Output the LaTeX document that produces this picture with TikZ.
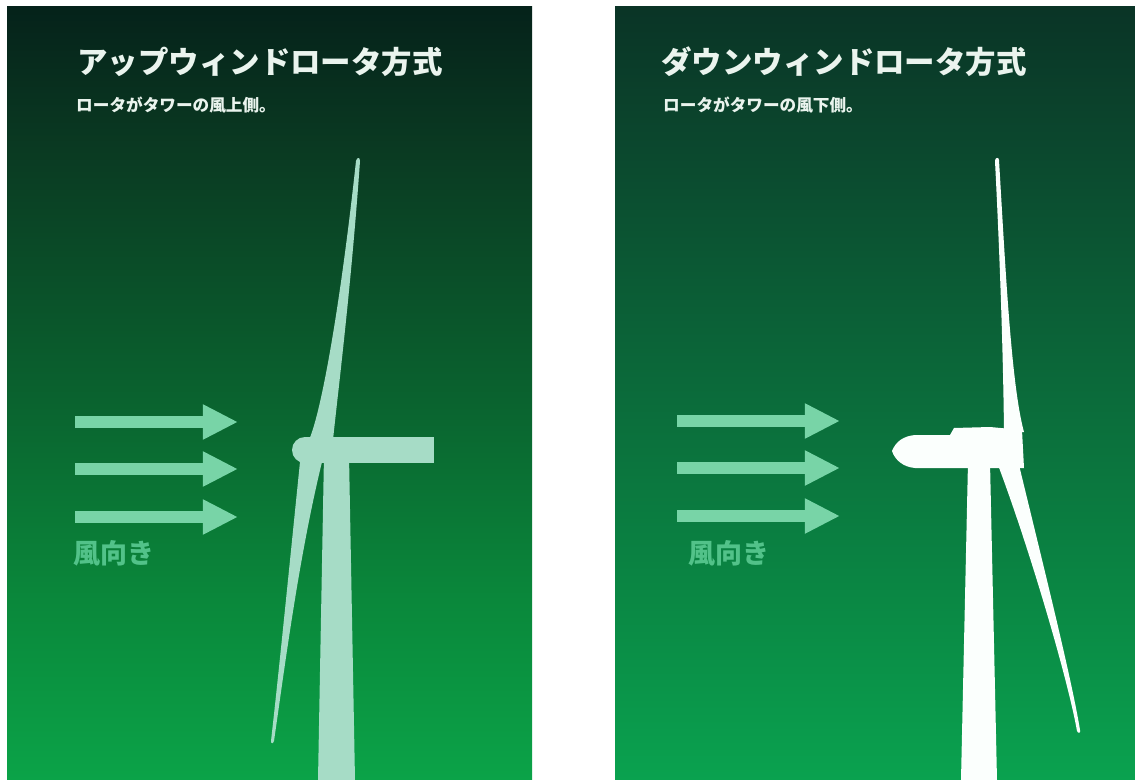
\documentclass[tikz,border=0pt]{standalone}
\usepackage{fontspec}
\newfontfamily\jp{Noto Sans CJK JP}
\usetikzlibrary{arrows.meta}

% panel and figure colours
\definecolor{upTop}{HTML}{05221A}
\definecolor{upA}{HTML}{0A3A22}
\definecolor{upB}{HTML}{0A632F}
\definecolor{upC}{HTML}{0A883B}
\definecolor{upBot}{HTML}{0BA348}
\definecolor{dnTop}{HTML}{0A3426}
\definecolor{dnA}{HTML}{0B482E}
\definecolor{dnB}{HTML}{0B6C3B}
\definecolor{dnC}{HTML}{0A8844}
\definecolor{dnBot}{HTML}{0AA24F}
\definecolor{titlec}{HTML}{EAF4EE}
\definecolor{windc}{HTML}{78D4A7}
\definecolor{labelc}{HTML}{52C289}
\definecolor{upturb}{HTML}{A6DCC6}
\definecolor{dnturb}{HTML}{FBFFFD}

% vertical gradients (0bp = bottom); the path spans 25bp..75bp
\pgfdeclareverticalshading{upbg}{100bp}{color(0bp)=(upBot); color(25bp)=(upBot);
  color(36.6bp)=(upC); color(49.5bp)=(upB); color(65.7bp)=(upA);
  color(75bp)=(upTop); color(100bp)=(upTop)}
\pgfdeclareverticalshading{dnbg}{100bp}{color(0bp)=(dnBot); color(25bp)=(dnBot);
  color(36.6bp)=(dnC); color(49.5bp)=(dnB); color(65.7bp)=(dnA);
  color(75bp)=(dnTop); color(100bp)=(dnTop)}

\tikzset{
  title/.style={anchor=west, inner sep=0pt, text=titlec,
    font=\jp\bfseries\fontsize{26}{30}\selectfont},
  subtitle/.style={anchor=west, inner sep=0pt, text=titlec,
    font=\jp\bfseries\fontsize{14.2}{17}\selectfont},
  windlabel/.style={anchor=west, inner sep=0pt, text=labelc,
    font=\jp\bfseries\fontsize{23}{27}\selectfont},
  wind/.style={draw=windc, line width=9.4pt,
    -{Triangle[length=30pt 0 0, width=28pt 0 0]}},
}

\begin{document}
\begin{tikzpicture}[x=0.03cm,y=-0.03cm]
\useasboundingbox (0,0) rectangle (1135,780);
\fill[white] (0,0) rectangle (1135,780);

% the two panels
\shade[shading=upbg] (7,6) rectangle (532,780);
\shade[shading=dnbg] (615,6) rectangle (1135,780);

% headings
\node[title] (uptitle) at (77,62) {アップウィンドロータ方式};
\node[subtitle] (upsub) at (76,105) {ロータがタワーの風上側。};
\node[title] (dntitle) at (661,62) {ダウンウィンドロータ方式};
\node[subtitle] (dnsub) at (663,105) {ロータがタワーの風下側。};

% wind arrows, upwind panel
\coordinate (uw1s) at (75,422);  \coordinate (uw1e) at (238,422);
\coordinate (uw2s) at (75,469);  \coordinate (uw2e) at (238,469);
\coordinate (uw3s) at (75,517);  \coordinate (uw3e) at (238,517);
\draw[wind] (uw1s) -- (uw1e);
\draw[wind] (uw2s) -- (uw2e);
\draw[wind] (uw3s) -- (uw3e);
\node[windlabel] (uplabel) at (73,553) {風向き};

% wind arrows, downwind panel
\coordinate (dw1s) at (677,421); \coordinate (dw1e) at (840,421);
\coordinate (dw2s) at (677,468); \coordinate (dw2e) at (840,468);
\coordinate (dw3s) at (677,516); \coordinate (dw3e) at (840,516);
\draw[wind] (dw1s) -- (dw1e);
\draw[wind] (dw2s) -- (dw2e);
\draw[wind] (dw3s) -- (dw3e);
\node[windlabel] (dnlabel) at (688,553) {風向き};

% upwind turbine: rotor in front of the tower
\begin{scope}[upturb]
  \fill (309,440) .. controls (322,410) and (341,300) .. (356,161)
        .. controls (357,157) and (360,157) .. (360,161)
        .. controls (351,290) and (337,400) .. (333,440) -- cycle;
  \fill (300,462) .. controls (290,560) and (278,680) .. (271,741)
        .. controls (271,744) and (273,744) .. (274,741)
        .. controls (283,680) and (298,560) .. (322,462) -- cycle;
  \fill (324,455) -- (349,455) -- (355,780) -- (318,780) -- cycle;
  \fill (305,437) rectangle (434,463);
  \fill (305,450) circle[radius=13];
\end{scope}

% downwind turbine: rotor behind the tower
\begin{scope}[dnturb]
  \fill (968,462) -- (990,462) -- (997,780) -- (961,780) -- cycle;
  \fill (892,451) .. controls (896,441) and (904,436) .. (915,435) -- (950,435)
        -- (954,428) -- (990,427) -- (1022,430) -- (1024,468) -- (915,468)
        .. controls (903,467) and (895,460) .. (892,451) -- cycle;
  \fill (1004,432) .. controls (1003,340) and (999,240) .. (995,161)
        .. controls (995,157) and (999,157) .. (999,160)
        .. controls (1005,260) and (1011,385) .. (1024,432) -- cycle;
  \fill (998,465) .. controls (1030,550) and (1068,680) .. (1077,731)
        .. controls (1078,734) and (1081,733) .. (1080,730)
        .. controls (1072,680) and (1042,560) .. (1019,465) -- cycle;
\end{scope}
\end{tikzpicture}
\end{document}
